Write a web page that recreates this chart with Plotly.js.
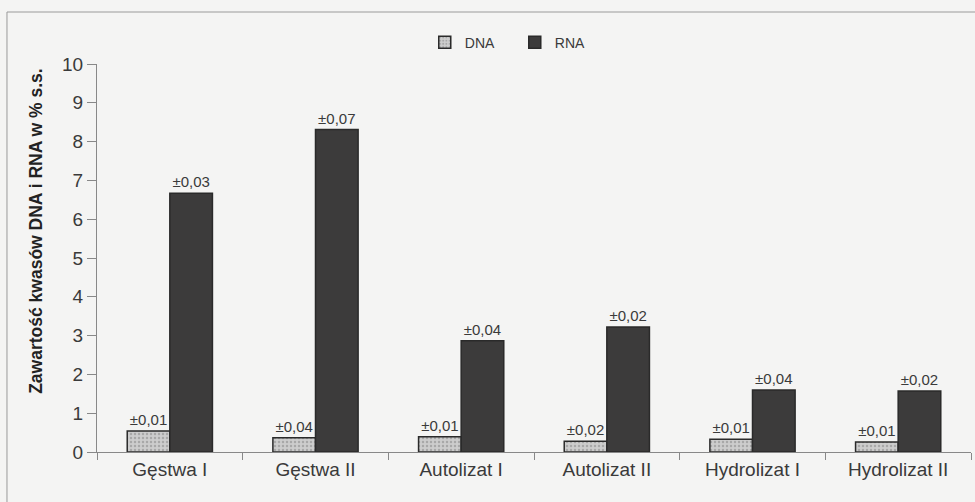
<!DOCTYPE html>
<html><head><meta charset="utf-8">
<script src="https://cdn.plot.ly/plotly-3.0.1.min.js"></script>
<style>html,body{margin:0;padding:0;background:#f4f4f3;}#chart{width:975px;height:502px;}</style>
</head><body><div id="chart"></div>
<script>
const categories = ["Gęstwa I","Gęstwa II","Autolizat I","Autolizat II","Hydrolizat I","Hydrolizat II"];
const dnaValues = [0.54, 0.37, 0.39, 0.28, 0.33, 0.26];
const rnaValues = [6.67, 8.31, 2.87, 3.22, 1.60, 1.57];
const dnaErrors = ["±0,01","±0,04","±0,01","±0,02","±0,01","±0,01"];
const rnaErrors = ["±0,03","±0,07","±0,04","±0,02","±0,04","±0,02"];
const yTicks = [0,1,2,3,4,5,6,7,8,9,10];
const yTitle = "Zawartość kwasów DNA i RNA w % s.s.";

const font = "Liberation Sans, Arial, sans-serif";
const traces = [
  {type:"bar", name:"DNA", x:categories, y:dnaValues, text:dnaErrors,
   textposition:"outside", cliponaxis:false,
   textfont:{family:font,size:15,color:"#3a3a3a"},
   marker:{color:"#c9c9c9", line:{color:"#2a2a2a", width:1.5},
     pattern:{shape:".", fgcolor:"#a8a8a8", bgcolor:"#cdcdcd", size:4, solidity:0.3}}},
  {type:"bar", name:"RNA", x:categories, y:rnaValues, text:rnaErrors,
   textposition:"outside", cliponaxis:false,
   textfont:{family:font,size:15,color:"#3a3a3a"},
   marker:{color:"#3c3b3b", line:{color:"#2a2a2a", width:1.5}}}
];
const layout = {
  width:975, height:502,
  paper_bgcolor:"#f4f4f3", plot_bgcolor:"#f4f4f3",
  margin:{l:97, r:4, t:64, b:50},
  font:{family:font, color:"#3a3a3a"},
  barmode:"group", bargap:0.415, bargroupgap:0,
  showlegend:true,
  legend:{orientation:"h", x:0.478, xanchor:"center", y:1.055, yanchor:"middle",
    entrywidth:45, itemwidth:30,
    font:{family:font,size:14,color:"#3a3a3a"}, bgcolor:"rgba(0,0,0,0)", traceorder:"normal"},
  xaxis:{type:"category", showline:true, linecolor:"#888", linewidth:1,
    ticks:"outside", tickson:"boundaries", ticklen:7, tickcolor:"#888",
    tickfont:{family:font,size:19,color:"#3a3a3a"}, showgrid:false, zeroline:false},
  yaxis:{range:[0,10], tickvals:yTicks, showline:true, linecolor:"#888", linewidth:1,
    ticks:"outside", ticklen:9, tickcolor:"#888", showgrid:false, zeroline:false,
    tickfont:{family:font,size:19,color:"#3a3a3a"}},
  annotations:[{text:yTitle, textangle:-90, xref:"paper", yref:"paper",
    x:-0.0698, y:0.57, xanchor:"center", yanchor:"middle", showarrow:false,
    font:{family:font,size:17.5,color:"#222", weight:"bold"}}],
  shapes:[{type:"rect", xref:"paper", yref:"paper", x0:-0.103, x1:1.02, y0:-0.14, y1:1.134,
    line:{color:"#9a9a9a", width:1}, fillcolor:"rgba(0,0,0,0)", layer:"below"}]
};
Plotly.newPlot("chart", traces, layout, {displayModeBar:false, staticPlot:true});
</script></body></html>
